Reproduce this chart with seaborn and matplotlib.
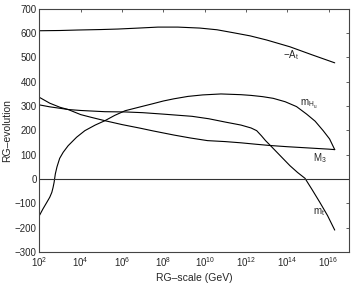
"""RG evolution of soft SUSY parameters from the weak scale up to the GUT scale."""

import numpy as np
import pandas as pd

import seaborn as sns
import matplotlib
matplotlib.use('Agg')
import matplotlib.pyplot as plt
from matplotlib.ticker import NullLocator, FixedLocator

###################################################################################################
###################################################################################################

# log10 of the RG scale (GeV) and the parameter values (GeV)
at_exp = [2.0, 3.0, 3.86, 5.0, 5.8, 6.8, 7.74, 8.7, 9.77, 10.6, 11.38, 12.2, 13.0,
          14.13, 15.2, 16.3]
at_val = [610, 611, 613, 615, 617, 621, 625, 625, 621, 614, 602, 589, 572,
          544, 511, 478]

mhu_exp = [2.0, 2.17, 2.35, 2.5, 2.6, 2.66, 2.71, 2.77, 2.85, 2.98, 3.15, 3.39, 3.8,
           4.2, 4.7, 5.17, 5.65, 6.15, 6.89, 7.5, 8.0, 8.51, 9.2, 9.9, 10.79, 11.76,
           12.25, 12.8, 13.32, 13.9, 14.45, 14.94, 15.35, 15.74, 16.05, 16.3]
mhu_val = [-150, -123, -97, -75, -55, -35, -14, 21, 50, 85, 110, 137, 172,
           199, 222, 240, 262, 281, 297, 310, 321, 330, 340, 346, 350, 347,
           344, 339, 332, 318, 298, 267, 238, 199, 165, 121]

m3_exp = [2.0, 2.5, 3.0, 3.39, 4.0, 4.5, 5.17, 6.0, 6.89, 7.5, 8.51, 9.3, 10.14,
          11.0, 11.76, 12.5, 13.16, 14.0, 15.0, 16.0, 16.3]
m3_val = [336, 312, 295, 286, 265, 254, 240, 224, 209, 198, 181, 169, 158,
          154, 149, 143, 138, 133, 128, 123, 121]

mt_exp = [2.0, 2.5, 3.0, 3.39, 4.0, 5.17, 6.15, 7.0, 8.0, 9.39, 10.2, 11.02, 11.76,
          12.25, 12.52, 12.75, 12.95, 13.16, 13.65, 14.13, 14.5, 14.86, 15.2, 15.58,
          15.95, 16.3]
mt_val = [305, 297, 291, 286, 282, 277, 276, 273, 267, 258, 248, 234, 222,
          210, 199, 178, 158, 140, 97, 55, 27, 3, -43, -96, -150, -210]

# curve labels: text, log10 scale, value
labels = [(r'$-A_t$', 13.8, 510),
          (r'$m_{H_u}$', 14.6, 305),
          (r'$M_3$', 15.25, 85),
          (r'$m_t$', 15.25, -137)]

x_tick_exp = [2, 4, 6, 8, 10, 12, 14, 16]
y_ticks = [-300, -200, -100, 0, 100, 200, 300, 400, 500, 600, 700]

###################################################################################################
###################################################################################################

sns.set_style('white')
plt.rcParams['font.family'] = ['Liberation Sans', 'DejaVu Sans']
plt.rcParams['mathtext.fontset'] = 'custom'
plt.rcParams['mathtext.rm'] = 'Liberation Sans'
plt.rcParams['mathtext.it'] = 'Liberation Sans'
plt.rcParams['mathtext.bf'] = 'Liberation Sans:bold'

fig = plt.figure(figsize=[3.52, 2.86], dpi=100)
ax = fig.add_axes([0.112, 0.119, 0.880, 0.850])

curves = [(at_exp, at_val), (mhu_exp, mhu_val), (m3_exp, m3_val), (mt_exp, mt_val)]
for exps, vals in curves:
    df = pd.DataFrame({'scale': np.power(10.0, exps), 'value': vals})
    sns.lineplot(data=df, x='scale', y='value', sort=False, estimator=None,
                 color='black', linewidth=0.8, ax=ax)

# Zero line across the full range
ax.axhline(0, color='#333333', linewidth=0.8)

for txt, ex, val in labels:
    ax.text(10.0**ex, val, txt, fontsize=7, ha='left', va='center')

ax.set_xscale('log')
ax.set_xlim([1e2, 1e17])
ax.set_ylim([-300, 700])
ax.xaxis.set_major_locator(FixedLocator([10.0**e for e in x_tick_exp]))
ax.xaxis.set_minor_locator(NullLocator())
ax.set_yticks(y_ticks)

# Titles & Labels
ax.set_xlabel('RG\u2013scale (GeV)', fontsize=7.5, labelpad=3)
ax.set_ylabel('RG\u2013evolution', fontsize=7.5, labelpad=2)

# Matlab-like box with inward ticks on all sides
ax.tick_params(axis='both', which='major', direction='in', length=2.5, width=0.6,
               top=True, right=True, labelsize=7, pad=2, color='#444444')
for side in ['left', 'right', 'top', 'bottom']:
    ax.spines[side].set_visible(True)
    ax.spines[side].set_linewidth(0.8)
    ax.spines[side].set_color('#444444')

plt.savefig('out.png', dpi=100)
